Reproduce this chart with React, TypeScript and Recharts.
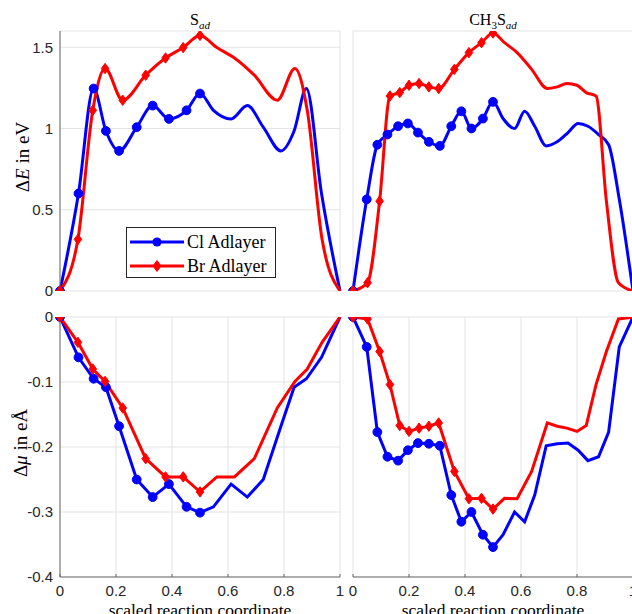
import React from "react"
import { CartesianGrid, Line, LineChart, XAxis, YAxis } from "recharts"

// S_ad path (Cl / Br adlayer)
const sadClX = [0, 0.066, 0.12, 0.164, 0.211, 0.274, 0.331, 0.389, 0.452, 0.5, 0.548, 0.611, 0.669, 0.726, 0.789, 0.836, 0.88, 0.934, 1]
const sadClE = [0, 0.6, 1.246, 0.985, 0.862, 1.008, 1.141, 1.059, 1.112, 1.215, 1.112, 1.059, 1.141, 1.008, 0.862, 0.985, 1.246, 0.6, 0]
const sadClMu = [0, -0.062, -0.095, -0.108, -0.168, -0.25, -0.277, -0.257, -0.292, -0.301, -0.292, -0.257, -0.277, -0.25, -0.168, -0.108, -0.095, -0.062, 0]

const sadBrX = [0, 0.064, 0.117, 0.161, 0.224, 0.306, 0.377, 0.44, 0.5, 0.56, 0.623, 0.694, 0.776, 0.839, 0.883, 0.936, 1]
const sadBrE = [0, 0.318, 1.112, 1.369, 1.174, 1.328, 1.434, 1.498, 1.573, 1.498, 1.434, 1.328, 1.174, 1.369, 1.112, 0.318, 0]
const sadBrMu = [0, -0.039, -0.08, -0.099, -0.14, -0.218, -0.246, -0.246, -0.269, -0.246, -0.246, -0.218, -0.14, -0.099, -0.08, -0.039, 0]

// CH3S_ad path
const ch3ClX = [0, 0.049, 0.087, 0.123, 0.161, 0.196, 0.232, 0.271, 0.31, 0.351, 0.387, 0.423, 0.464, 0.5, 0.536, 0.577, 0.613, 0.649, 0.69, 0.729, 0.768, 0.804, 0.839, 0.877, 0.913, 0.951, 1]
const ch3ClE = [0, 0.564, 0.9, 0.963, 1.014, 1.031, 0.975, 0.918, 0.893, 1.014, 1.106, 1.0, 1.061, 1.164, 1.061, 1.0, 1.106, 1.014, 0.893, 0.918, 0.975, 1.031, 1.014, 0.963, 0.9, 0.564, 0]
const ch3ClMu = [0, -0.046, -0.177, -0.215, -0.221, -0.205, -0.194, -0.195, -0.198, -0.274, -0.315, -0.3, -0.335, -0.354, -0.335, -0.3, -0.315, -0.274, -0.198, -0.195, -0.194, -0.205, -0.221, -0.215, -0.177, -0.046, 0]

const ch3BrX = [0, 0.052, 0.095, 0.132, 0.167, 0.2, 0.236, 0.271, 0.306, 0.362, 0.414, 0.459, 0.5, 0.541, 0.586, 0.638, 0.694, 0.729, 0.764, 0.8, 0.833, 0.868, 0.905, 0.948, 1]
const ch3BrE = [0, 0.051, 0.553, 1.2, 1.221, 1.266, 1.277, 1.256, 1.246, 1.364, 1.467, 1.528, 1.588, 1.528, 1.467, 1.364, 1.246, 1.256, 1.277, 1.266, 1.221, 1.2, 0.553, 0.051, 0]
const ch3BrMu = [0, -0.003, -0.053, -0.104, -0.167, -0.176, -0.171, -0.168, -0.163, -0.2375, -0.2795, -0.279, -0.2955, -0.279, -0.2795, -0.2375, -0.163, -0.168, -0.171, -0.176, -0.167, -0.104, -0.053, -0.003, 0]

const xTicks = [0, 0.2, 0.4, 0.6, 0.8, 1]
const eTicks = [0, 0.5, 1, 1.5]
const muTicks = [-0.4, -0.3, -0.2, -0.1, 0]

const BLUE = "#0000ff"
const RED = "#ff0000"
const GRID = "#e3e3e3"
const AXIS = "#6b6b6b"
const TEXT = "#262626"
const SANS = "'Liberation Sans', Arial, sans-serif"
const SERIF = "'Liberation Serif', 'Times New Roman', serif"

const toPts = (xs: number[], ys: number[]) => xs.map((x, i) => ({ x, y: ys[i] }))

// markers only on the first half of the path
const ClDot = (props: any) => {
  const { cx, cy, payload, index } = props
  if (payload.x > 0.5001) return <g key={`c${index}`} />
  return <circle key={`c${index}`} cx={cx} cy={cy} r={4.4} fill={BLUE} stroke={BLUE} />
}

const BrDot = (props: any) => {
  const { cx, cy, payload, index } = props
  if (payload.x > 0.5001) return <g key={`d${index}`} />
  return (
    <path key={`d${index}`} d={`M${cx},${cy - 5.2}L${cx + 3.8},${cy}L${cx},${cy + 5.2}L${cx - 3.8},${cy}Z`} fill={RED} stroke={RED} />
  )
}

const tickStyle = { fill: TEXT, fontSize: 15, fontFamily: SANS }

interface PanelProps {
  left: number
  top: number
  width: number
  height: number
  margin: { top: number; right: number; bottom: number; left: number }
  showY: boolean
  showX: boolean
  yDomain: [number, number]
  yTicks: number[]
  curve: "monotone" | "linear"
  cl: { x: number; y: number }[]
  br: { x: number; y: number }[]
}

const Panel: React.FC<PanelProps> = (p) => {
  return (
    <div style={{ position: "absolute", left: p.left, top: p.top }}>
      <LineChart width={p.width} height={p.height} margin={p.margin}>
        <CartesianGrid stroke={GRID} strokeWidth={1} />
        <XAxis
          type="number"
          dataKey="x"
          domain={[0, 1]}
          ticks={xTicks}
          interval={0}
          height={p.showX ? 37 : 0}
          tick={p.showX ? tickStyle : false}
          tickLine={p.showX ? { stroke: AXIS } : false}
          tickSize={-3}
          tickMargin={11}
          axisLine={p.showX ? { stroke: AXIS } : false}
        />
        <YAxis
          type="number"
          dataKey="y"
          domain={p.yDomain}
          ticks={p.yTicks}
          interval={0}
          width={p.showY ? 60 : 0}
          tick={p.showY ? tickStyle : false}
          tickLine={false}
          tickSize={6}
          tickMargin={1}
          axisLine={p.showY ? { stroke: AXIS } : false}
          allowDataOverflow
        />
        <Line data={p.cl} dataKey="y" type={p.curve} stroke={BLUE} strokeWidth={3} dot={ClDot} activeDot={false} isAnimationActive={false} />
        <Line data={p.br} dataKey="y" type={p.curve} stroke={RED} strokeWidth={3} dot={BrDot} activeDot={false} isAnimationActive={false} />
      </LineChart>
    </div>
  )
}

const LegendBox = () => (
  <div
    style={{
      position: "absolute",
      left: 126,
      top: 227,
      width: 150,
      height: 51,
      boxSizing: "border-box",
      border: `1px solid ${TEXT}`,
      background: "#fff",
      fontFamily: SERIF,
      fontSize: 18,
      color: "#000",
    }}
  >
    {[
      { name: "Cl Adlayer", color: BLUE, kind: "circle" },
      { name: "Br Adlayer", color: RED, kind: "diamond" },
    ].map((e, i) => (
      <div key={e.name} style={{ position: "absolute", left: 3, top: 3 + i * 24, height: 22, display: "flex", alignItems: "center" }}>
        <svg width={54} height={22}>
          <line x1={0} y1={11} x2={54} y2={11} stroke={e.color} strokeWidth={3} />
          {e.kind === "circle" ? (
            <circle cx={27} cy={11} r={4.6} fill={e.color} />
          ) : (
            <path d="M27,5.5L31,11L27,16.5L23,11Z" fill={e.color} stroke={e.color} />
          )}
        </svg>
        <span style={{ marginLeft: 3, whiteSpace: "nowrap" }}>{e.name}</span>
      </div>
    ))}
  </div>
)

const centered = (x: number, y: number, size: number): React.CSSProperties => ({
  position: "absolute",
  left: x,
  top: y,
  transform: "translate(-50%, 0)",
  fontFamily: SERIF,
  fontSize: size,
  color: "#000",
  whiteSpace: "nowrap",
  lineHeight: 1,
})

const rotated = (x: number, y: number): React.CSSProperties => ({
  position: "absolute",
  left: x,
  top: y,
  transform: "translate(-50%, -50%) rotate(-90deg)",
  fontFamily: SERIF,
  fontSize: 19,
  color: "#000",
  whiteSpace: "nowrap",
  lineHeight: 1,
})

export default function App() {
  const topMargin = { top: 31, right: 10, bottom: 9, left: 0 }
  const topMarginR = { top: 31, right: 0, bottom: 9, left: 10 }
  const botMargin = { top: 17, right: 10, bottom: 0, left: 0 }
  const botMarginR = { top: 17, right: 0, bottom: 0, left: 10 }
  return (
    <div style={{ position: "absolute", left: 0, top: 0, width: 632, height: 614, overflow: "hidden", background: "#fff" }}>
      <Panel left={0} top={0} width={350} height={300} margin={topMargin} showY showX={false} yDomain={[0, 1.6]} yTicks={eTicks} curve="monotone" cl={toPts(sadClX, sadClE)} br={toPts(sadBrX, sadBrE)} />
      <Panel left={343} top={0} width={290} height={300} margin={topMarginR} showY={false} showX={false} yDomain={[0, 1.6]} yTicks={eTicks} curve="monotone" cl={toPts(ch3ClX, ch3ClE)} br={toPts(ch3BrX, ch3BrE)} />
      <Panel left={0} top={300} width={350} height={314} margin={botMargin} showY showX yDomain={[-0.4, 0]} yTicks={muTicks} curve="linear" cl={toPts(sadClX, sadClMu)} br={toPts(sadBrX, sadBrMu)} />
      <Panel left={343} top={300} width={290} height={314} margin={botMarginR} showY={false} showX yDomain={[-0.4, 0]} yTicks={muTicks} curve="linear" cl={toPts(ch3ClX, ch3ClMu)} br={toPts(ch3BrX, ch3BrMu)} />

      <div style={centered(200, 12, 16)}>
        S<sub style={{ fontStyle: "italic", fontSize: 11 }}>ad</sub>
      </div>
      <div style={centered(493, 12, 16)}>
        CH<sub style={{ fontSize: 11 }}>3</sub>S<sub style={{ fontStyle: "italic", fontSize: 11 }}>ad</sub>
      </div>

      <div style={rotated(22, 157)}>
        Δ<i>E</i> in eV
      </div>
      <div style={rotated(20, 443)}>
        Δ<i>μ</i> in eÅ
      </div>

      <div style={centered(200, 602, 17.5)}>scaled reaction coordinate</div>
      <div style={centered(493, 602, 17.5)}>scaled reaction coordinate</div>

      <LegendBox />
    </div>
  )
}
